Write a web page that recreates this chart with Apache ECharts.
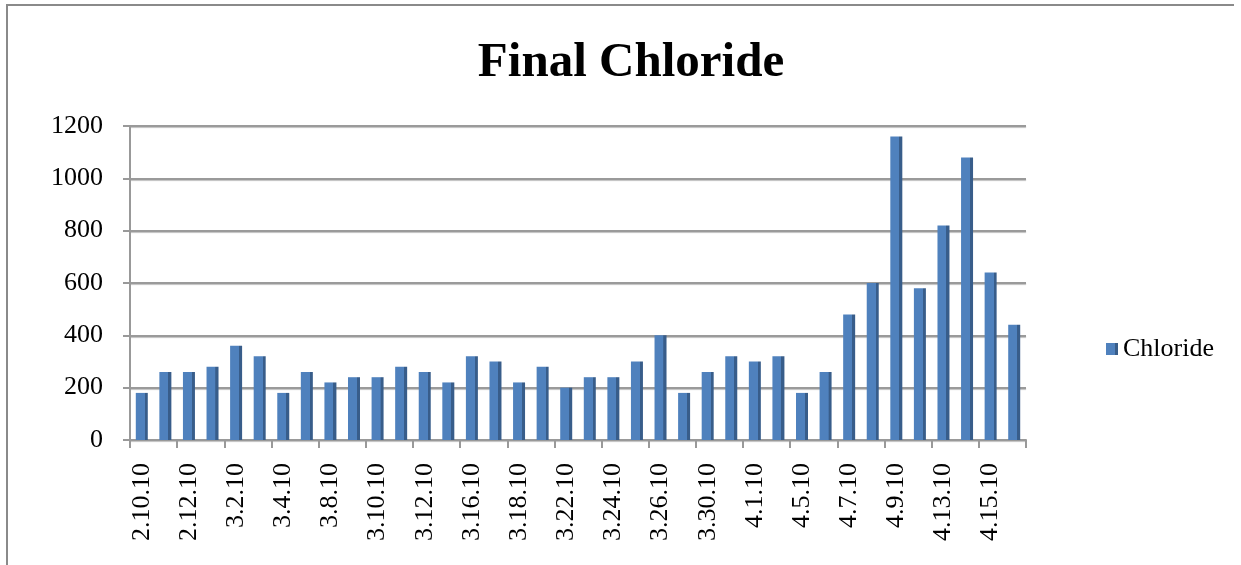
<!DOCTYPE html>
<html>
<head>
<meta charset="utf-8">
<script src="https://cdn.jsdelivr.net/npm/echarts@6/dist/echarts.min.js"></script>
<style>
  html, body { margin: 0; padding: 0; background: #fff; }
  #frame { position: absolute; left: 6px; top: 4px; width: 1226px; height: 570px;
           border-top: 2px solid #8a8a8a; border-left: 2px solid #8a8a8a; }
  #chart { position: absolute; left: 0; top: 0; width: 1241px; height: 565px; }
</style>
</head>
<body>
<div id="frame"></div>
<div id="chart"></div>
<script>
// sample dates (only every other one is labelled on the axis)
const dates = [
  '2.10.10', '2.11.10', '2.12.10', '2.16.10', '3.2.10', '3.3.10', '3.4.10', '3.5.10',
  '3.8.10', '3.9.10', '3.10.10', '3.11.10', '3.12.10', '3.15.10', '3.16.10', '3.17.10',
  '3.18.10', '3.19.10', '3.22.10', '3.23.10', '3.24.10', '3.25.10', '3.26.10', '3.29.10',
  '3.30.10', '3.31.10', '4.1.10', '4.2.10', '4.5.10', '4.6.10', '4.7.10', '4.8.10',
  '4.9.10', '4.12.10', '4.13.10', '4.14.10', '4.15.10', '4.16.10'
]
const chloride = [
  180, 260, 260, 280, 360, 320, 180, 260, 220, 240,
  240, 280, 260, 220, 320, 300, 220, 280, 200, 240,
  240, 300, 400, 180, 260, 320, 300, 320, 180, 260,
  480, 600, 1160, 580, 820, 1080, 640, 440
]
const yTicks = { min: 0, max: 1200, step: 200 }

const chart = echarts.init(document.getElementById('chart'))
const serif = '"Liberation Serif", "Times New Roman", serif'

chart.setOption({
  animation: false,
  title: {
    text: 'Final Chloride',
    left: 626,
    textAlign: 'center',
    top: 34,
    textStyle: { fontFamily: serif, fontWeight: 'bold', fontSize: 49, color: '#000' }
  },
  legend: {
    data: ['Chloride'],
    left: 1101,
    top: 331,
    icon: 'rect',
    itemWidth: 12,
    itemHeight: 12,
    itemGap: 6,
    textStyle: { fontFamily: serif, fontSize: 26, color: '#000' }
  },
  grid: { left: 130, right: 215, top: 126, bottom: 125 },
  xAxis: {
    type: 'category',
    data: dates,
    axisLine: { lineStyle: { color: '#999', width: 2 } },
    axisTick: { show: true, length: 8, lineStyle: { color: '#999', width: 2 } },
    axisLabel: {
      interval: 1,
      rotate: 90,
      margin: 23,
      fontFamily: serif,
      fontSize: 26,
      color: '#000'
    }
  },
  yAxis: {
    type: 'value',
    min: yTicks.min,
    max: yTicks.max,
    interval: yTicks.step,
    axisLine: { show: true, lineStyle: { color: '#999', width: 2 } },
    axisTick: { show: true, length: 7, lineStyle: { color: '#999', width: 2 } },
    axisLabel: {
      margin: 27,
      fontFamily: serif,
      fontSize: 26,
      color: '#000',
      formatter: v => String(v)
    },
    splitLine: {
      lineStyle: { color: '#9a9a9a', width: 2, shadowColor: 'rgba(0,0,0,0.25)', shadowOffsetY: 1, shadowBlur: 1 }
    }
  },
  series: [
    {
      name: 'Chloride',
      type: 'bar',
      data: chloride,
      barWidth: 12,
      itemStyle: {
        color: new echarts.graphic.LinearGradient(0, 0, 1, 0, [
          { offset: 0, color: '#4f81bd' },
          { offset: 0.74, color: '#4f81bd' },
          { offset: 0.75, color: '#385d8a' },
          { offset: 1, color: '#385d8a' }
        ])
      }
    }
  ]
})
</script>
</body>
</html>
